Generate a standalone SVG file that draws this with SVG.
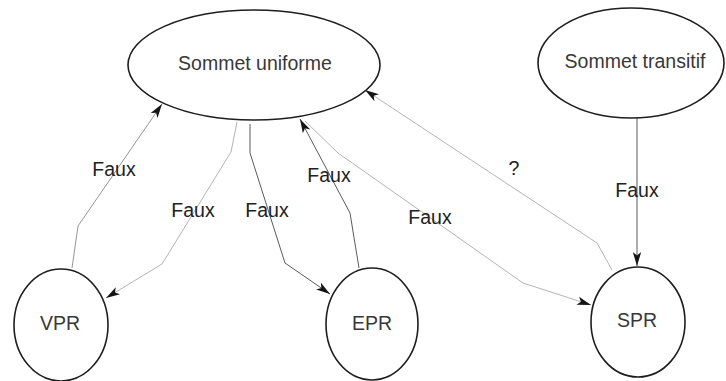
<svg xmlns="http://www.w3.org/2000/svg" width="726" height="381" viewBox="0 0 726 381">
  <style>
    .node { fill: #ffffff; stroke: #1e1e1e; stroke-width: 1.6; }
    .lbl { font-family: "Liberation Sans", Arial, sans-serif; font-size: 19.5px; fill: #383838; text-anchor: middle; }
    .edge { fill: none; stroke-width: 1; }
    .light { stroke: #b4b4b4; }
    .mid { stroke: #969696; }
    .dark { stroke: #5a5a5a; }
    .elbl { font-family: "Liberation Sans", Arial, sans-serif; font-size: 19.5px; fill: #222; text-anchor: middle; }
  </style>
  <defs>
    <marker id="arrow" markerUnits="userSpaceOnUse" markerWidth="16" markerHeight="10" refX="14" refY="4.5" orient="auto">
      <path d="M0,0.3 L14,4.5 L0,8.7 L3.5,4.5 Z" fill="#141414"/>
    </marker>
  </defs>
  <rect width="726" height="381" fill="#ffffff"/>

  <g id="connectors">
    <!-- VPR -> Sommet uniforme -->
    <polyline class="edge mid" points="72,268 78,226 162,104" marker-end="url(#arrow)"/>
    <!-- Sommet uniforme -> VPR -->
    <polyline class="edge light" points="237,122 231,152 162,264 106,298" marker-end="url(#arrow)"/>
    <!-- Sommet uniforme -> EPR -->
    <polyline class="edge dark" points="250,124 250,153 285,263 330,294" marker-end="url(#arrow)"/>
    <!-- EPR -> Sommet uniforme -->
    <polyline class="edge dark" points="359,268 350,213 300,119" marker-end="url(#arrow)"/>
    <!-- Sommet uniforme -> SPR -->
    <polyline class="edge light" points="305,121 338,153 523,283 591,305" marker-end="url(#arrow)"/>
    <!-- SPR -> Sommet uniforme -->
    <polyline class="edge light" points="612,270 597,243 365,90" marker-end="url(#arrow)"/>
    <!-- Sommet transitif -> SPR -->
    <polyline class="edge dark" points="637,118 637,266" marker-end="url(#arrow)"/>

    <text class="elbl" x="114" y="176">Faux</text>
    <text class="elbl" x="193" y="217">Faux</text>
    <text class="elbl" x="267" y="217">Faux</text>
    <text class="elbl" x="329" y="182">Faux</text>
    <text class="elbl" x="430" y="224">Faux</text>
    <text class="elbl" x="514" y="175">?</text>
    <text class="elbl" x="637" y="197">Faux</text>
  </g>

  <g id="sommet-uniforme">
    <ellipse class="node" cx="254" cy="65" rx="126" ry="55"/>
    <text class="lbl" x="255" y="70">Sommet uniforme</text>
  </g>
  <g id="sommet-transitif">
    <ellipse class="node" cx="631" cy="63" rx="93" ry="55"/>
    <text class="lbl" x="635" y="68">Sommet transitif</text>
  </g>
  <g id="vpr">
    <ellipse class="node" cx="61" cy="325" rx="47" ry="56"/>
    <text class="lbl" x="60" y="330">VPR</text>
  </g>
  <g id="epr">
    <ellipse class="node" cx="372" cy="324" rx="46" ry="56"/>
    <text class="lbl" x="372" y="330">EPR</text>
  </g>
  <g id="spr">
    <ellipse class="node" cx="638" cy="322" rx="47" ry="55"/>
    <text class="lbl" x="637" y="327">SPR</text>
  </g>
</svg>
